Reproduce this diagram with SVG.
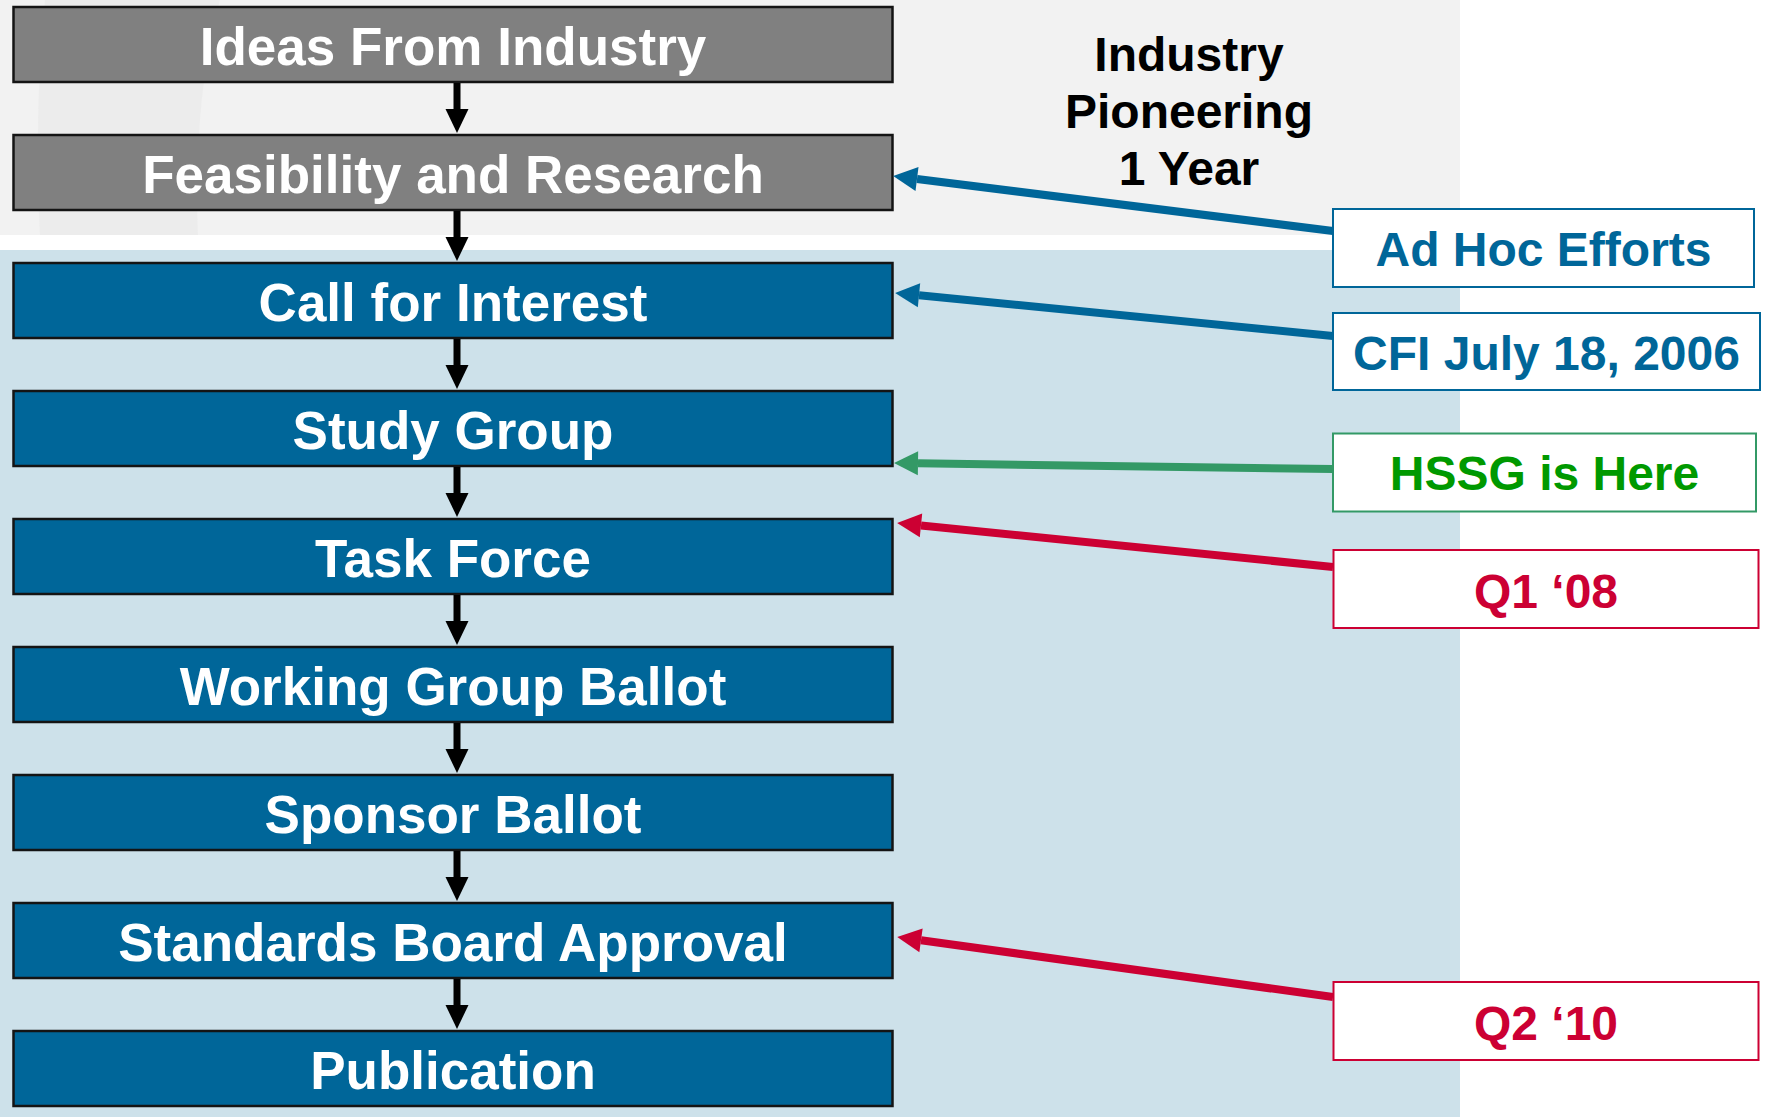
<svg xmlns="http://www.w3.org/2000/svg" width="1767" height="1117" viewBox="0 0 1767 1117">
  <style>
    .lbl{font-family:"Liberation Sans",Arial,Helvetica,sans-serif;font-weight:bold;font-size:53px;fill:#ffffff;text-anchor:middle}
    .box{stroke:#141414;stroke-width:2.5}
    .gray{fill:#808080}
    .blue{fill:#006699}
    .note{fill:#ffffff;stroke-width:2}
    .ntxt{font-family:"Liberation Sans",Arial,Helvetica,sans-serif;font-weight:bold;font-size:48px;text-anchor:middle}
    .flow{stroke:#000000;stroke-width:7;fill:none}
    .conn{stroke-width:8;fill:none}
  </style>
  <defs>
    <marker id="hBlack" viewBox="0 -12 24 24" refX="0" refY="0" markerWidth="24" markerHeight="24" markerUnits="userSpaceOnUse" orient="auto" overflow="visible">
      <path d="M0,-11.5 L24,0 L0,11.5 z" fill="#000000"/>
    </marker>
    <marker id="hBlue" viewBox="0 -12 24 24" refX="0" refY="0" markerWidth="24" markerHeight="24" markerUnits="userSpaceOnUse" orient="auto" overflow="visible">
      <path d="M0,-12 L24,0 L0,12 z" fill="#006699"/>
    </marker>
    <marker id="hGreen" viewBox="0 -12 24 24" refX="0" refY="0" markerWidth="24" markerHeight="24" markerUnits="userSpaceOnUse" orient="auto" overflow="visible">
      <path d="M0,-12 L24,0 L0,12 z" fill="#339966"/>
    </marker>
    <marker id="hRed" viewBox="0 -12 24 24" refX="0" refY="0" markerWidth="24" markerHeight="24" markerUnits="userSpaceOnUse" orient="auto" overflow="visible">
      <path d="M0,-12 L24,0 L0,12 z" fill="#cc0033"/>
    </marker>
  </defs>

  <rect x="0" y="0" width="1767" height="1117" fill="#ffffff"/>
  <g id="background">
    <rect x="0" y="0" width="1460" height="235" fill="#f2f2f2"/>
    <path d="M45,0 L220,0 C200,70 195,160 198,235 L40,235 C36,150 38,70 45,0 z" fill="#eaeaea" opacity="0.7"/>
    <rect x="0" y="250" width="1460" height="867" fill="#cde1ea"/>
  </g>

  <g id="phase-label">
    <text class="ntxt" x="1189" y="71" font-size="47" fill="#000000">Industry</text>
    <text class="ntxt" x="1189" y="128" font-size="47" fill="#000000">Pioneering</text>
    <text class="ntxt" x="1189" y="185" font-size="47" fill="#000000">1 Year</text>
  </g>

  <g id="node-ideas"><rect class="box gray" x="13.5" y="7" width="879" height="75"/><text class="lbl" x="453" y="65">Ideas From Industry</text></g>
  <g id="node-feasibility"><rect class="box gray" x="13.5" y="135" width="879" height="75"/><text class="lbl" x="453" y="193">Feasibility and Research</text></g>
  <g id="node-cfi"><rect class="box blue" x="13.5" y="263" width="879" height="75"/><text class="lbl" x="453" y="321">Call for Interest</text></g>
  <g id="node-study"><rect class="box blue" x="13.5" y="391" width="879" height="75"/><text class="lbl" x="453" y="449">Study Group</text></g>
  <g id="node-task"><rect class="box blue" x="13.5" y="519" width="879" height="75"/><text class="lbl" x="453" y="577">Task Force</text></g>
  <g id="node-wgballot"><rect class="box blue" x="13.5" y="647" width="879" height="75"/><text class="lbl" x="453" y="705">Working Group Ballot</text></g>
  <g id="node-sponsor"><rect class="box blue" x="13.5" y="775" width="879" height="75"/><text class="lbl" x="453" y="833">Sponsor Ballot</text></g>
  <g id="node-sba"><rect class="box blue" x="13.5" y="903" width="879" height="75"/><text class="lbl" x="453" y="961">Standards Board Approval</text></g>
  <g id="node-publication"><rect class="box blue" x="13.5" y="1031" width="879" height="75"/><text class="lbl" x="453" y="1089">Publication</text></g>

  <g id="note-adhoc"><rect class="note" x="1333" y="209" width="421" height="78" stroke="#006699"/><text class="ntxt" x="1543.5" y="266" fill="#006699">Ad Hoc Efforts</text></g>
  <g id="note-cfi"><rect class="note" x="1333" y="313" width="427" height="77" stroke="#006699"/><text class="ntxt" x="1546.5" y="370" fill="#006699">CFI July 18, 2006</text></g>
  <g id="note-hssg"><rect class="note" x="1333" y="433.5" width="423" height="78" stroke="#339966"/><text class="ntxt" x="1544.5" y="490" fill="#009900">HSSG is Here</text></g>
  <g id="note-q1"><rect class="note" x="1333.5" y="550" width="425" height="78" stroke="#cc0033"/><text class="ntxt" x="1546" y="608" fill="#cc0033">Q1 ‘08</text></g>
  <g id="note-q2"><rect class="note" x="1333.5" y="982" width="425" height="78" stroke="#cc0033"/><text class="ntxt" x="1546" y="1040" fill="#cc0033">Q2 ‘10</text></g>

  <g id="connectors">
    <line class="flow" x1="457" y1="83" x2="457" y2="109" marker-end="url(#hBlack)"/>
    <line class="flow" x1="457" y1="211" x2="457" y2="237" marker-end="url(#hBlack)"/>
    <line class="flow" x1="457" y1="339" x2="457" y2="365" marker-end="url(#hBlack)"/>
    <line class="flow" x1="457" y1="467" x2="457" y2="493" marker-end="url(#hBlack)"/>
    <line class="flow" x1="457" y1="595" x2="457" y2="621" marker-end="url(#hBlack)"/>
    <line class="flow" x1="457" y1="723" x2="457" y2="749" marker-end="url(#hBlack)"/>
    <line class="flow" x1="457" y1="851" x2="457" y2="877" marker-end="url(#hBlack)"/>
    <line class="flow" x1="457" y1="979" x2="457" y2="1005" marker-end="url(#hBlack)"/>

    <line class="conn" stroke="#006699" x1="1333" y1="231" x2="917" y2="179" marker-end="url(#hBlue)"/>
    <line class="conn" stroke="#006699" x1="1333" y1="336" x2="919" y2="295.3" marker-end="url(#hBlue)"/>
    <line class="conn" stroke="#339966" x1="1333" y1="469" x2="918" y2="463.3" marker-end="url(#hGreen)"/>
    <line class="conn" stroke="#cc0033" x1="1333" y1="567" x2="921" y2="525.4" marker-end="url(#hRed)"/>
    <line class="conn" stroke="#cc0033" x1="1333" y1="997" x2="921" y2="940.3" marker-end="url(#hRed)"/>
  </g>
</svg>
